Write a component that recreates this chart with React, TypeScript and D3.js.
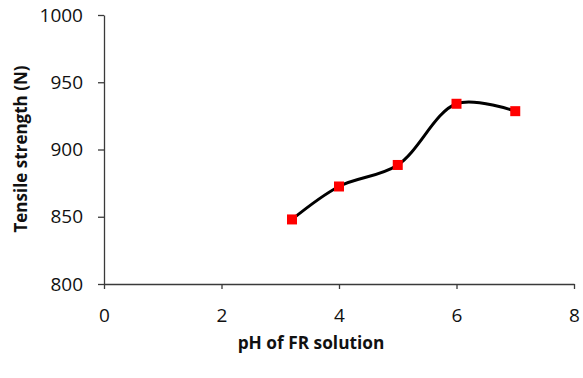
import { useEffect, useRef } from "react";
import * as d3 from "d3";

const phValues = [3.2, 4, 5, 6, 7];
const strengthValues = [848, 872.5, 888.5, 934, 928.5];
const xTicks = [0, 2, 4, 6, 8];
const yTicks = [800, 850, 900, 950, 1000];

const App = () => {
  const svgRef = useRef<SVGSVGElement | null>(null);

  useEffect(() => {
    const width = 583;
    const height = 378;
    const margin = { top: 15, right: 9, bottom: 94, left: 104 };

    const svg = d3.select(svgRef.current);
    svg.selectAll("*").remove();

    const x = d3.scaleLinear().domain([0, 8]).range([margin.left, width - margin.right]);
    const y = d3.scaleLinear().domain([800, 1000]).range([height - margin.bottom, margin.top]);

    const axisColor = "#3a3a3a";
    const font = "'Open Sans', sans-serif";

    // y axis
    const yAxis = svg
      .append("g")
      .attr("transform", `translate(${margin.left},0)`)
      .call(
        d3
          .axisLeft(y)
          .tickValues(yTicks)
          .tickFormat(d3.format("d"))
          .tickSize(6)
          .tickSizeOuter(0)
          .tickPadding(15)
      );
    yAxis.select(".domain").attr("stroke", axisColor).attr("stroke-width", 1.3);
    yAxis.selectAll(".tick line").attr("stroke", axisColor).attr("stroke-width", 1.3);
    yAxis
      .selectAll(".tick text")
      .attr("font-family", font)
      .attr("font-size", 19)
      .attr("fill", "#111");

    // x axis
    const xAxis = svg
      .append("g")
      .attr("transform", `translate(0,${y(800)})`)
      .call(d3.axisBottom(x).tickValues(xTicks).tickSize(5).tickSizeOuter(0).tickPadding(20));
    xAxis.select(".domain").attr("stroke", axisColor).attr("stroke-width", 1.3);
    xAxis.selectAll(".tick line").attr("stroke", axisColor).attr("stroke-width", 1.3);
    xAxis
      .selectAll(".tick text")
      .attr("font-family", font)
      .attr("font-size", 19)
      .attr("fill", "#111");

    // axis titles
    svg
      .append("text")
      .attr("x", 311)
      .attr("y", 349)
      .attr("text-anchor", "middle")
      .attr("font-family", font)
      .attr("font-weight", "bold")
      .attr("font-size", 17.3)
      .attr("fill", "#111")
      .text("pH of FR solution");

    svg
      .append("text")
      .attr("transform", `translate(27,149) rotate(-90)`)
      .attr("text-anchor", "middle")
      .attr("font-family", font)
      .attr("font-weight", "bold")
      .attr("font-size", 17)
      .attr("fill", "#111")
      .text("Tensile strength (N)");

    const points = phValues.map((p, i) => [p, strengthValues[i]] as [number, number]);

    const line = d3
      .line<[number, number]>()
      .x((d) => x(d[0]))
      .y((d) => y(d[1]))
      .curve(d3.curveCatmullRom.alpha(0.5));

    svg
      .append("path")
      .datum(points)
      .attr("d", line)
      .attr("fill", "none")
      .attr("stroke", "#000")
      .attr("stroke-width", 3);

    const s = 10;
    svg
      .selectAll("rect.marker")
      .data(points)
      .enter()
      .append("rect")
      .attr("class", "marker")
      .attr("x", (d) => x(d[0]) - s / 2)
      .attr("y", (d) => y(d[1]) - s / 2)
      .attr("width", s)
      .attr("height", s)
      .attr("fill", "#ff0000");
  }, []);

  return (
    <svg
      ref={svgRef}
      width="583"
      height="378"
      style={{ position: "absolute", left: 0, top: 0, background: "#fff" }}
    ></svg>
  );
};

export default App;
